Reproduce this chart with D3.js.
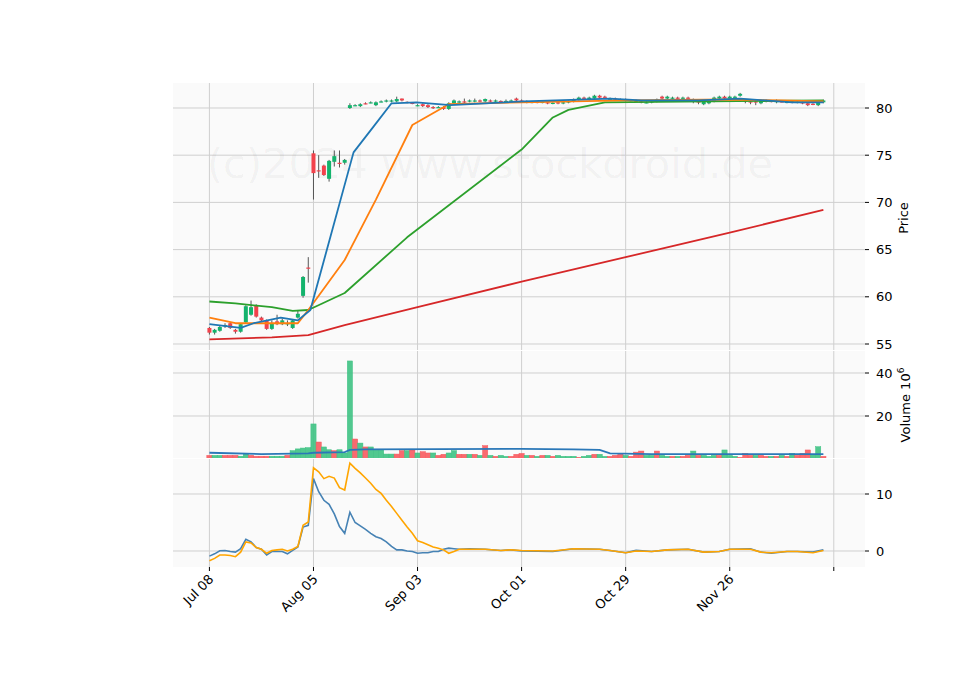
<!DOCTYPE html>
<html><head><meta charset="utf-8">
<script src="https://cdn.jsdelivr.net/npm/d3@7/dist/d3.min.js"></script>
<style>body{margin:0;background:#fff}text{font-family:"DejaVu Sans",sans-serif}</style>
</head><body><svg id="c" width="960" height="690"></svg>
<script>
const tickIdx=[0,20,40,60,80,100,120];
const tickLabels=["Jul 08","Aug 05","Sep 03","Oct 01","Oct 29","Nov 26",""];
const opens=[56.7,56.2,56.4,56.9,57.2,56.5,56.3,57.3,58.1,59.1,57.8,57.5,56.6,57.4,57.1,57.2,56.7,57.8,60.1,63.1,75.2,73.4,73.9,72.5,74.3,74.2,74.2,80.0,80.3,80.2,80.5,80.55,80.3,80.65,80.7,80.7,80.7,81.0,80.65,80.55,80.3,80.4,80.3,80.1,80.1,80.1,79.9,80.5,80.6,80.7,80.7,80.7,80.8,80.7,80.8,80.7,80.75,80.7,80.7,81.0,80.8,80.7,80.6,80.65,80.6,80.6,80.5,80.6,80.5,80.6,80.7,80.9,81.1,80.9,81.0,81.3,81.2,81.0,81.0,80.9,80.9,80.8,80.8,80.7,80.6,80.6,80.7,81.2,81.0,81.0,81.1,81.0,81.1,80.9,80.7,80.4,80.5,80.7,81.0,81.2,81.0,81.1,81.3,80.8,80.7,80.7,80.5,80.8,80.75,80.6,80.7,80.6,80.7,80.6,80.6,80.5,80.45,80.3,80.6];
const closes=[56.2,56.5,56.8,57.0,56.7,56.3,57.1,59.0,58.9,57.9,57.5,56.6,57.2,57.1,57.5,57.2,57.5,58.2,62.1,63.0,73.1,73.3,72.9,74.4,74.9,74.1,74.5,80.3,80.3,80.4,80.45,80.6,80.6,80.7,80.8,80.8,80.95,80.8,80.6,80.5,80.3,80.2,80.1,80.0,80.1,79.9,80.5,80.8,80.7,80.6,80.8,80.8,80.7,80.95,80.7,80.8,80.7,80.75,80.8,80.8,80.7,80.6,80.65,80.6,80.65,80.5,80.55,80.5,80.6,80.7,80.9,81.1,81.0,81.1,81.3,81.1,81.1,81.0,80.9,80.85,80.8,80.85,80.7,80.6,80.6,80.7,80.9,81.0,81.2,81.1,81.0,81.1,81.0,80.7,80.6,80.7,80.8,81.1,81.2,81.0,81.2,81.2,81.5,80.7,80.6,80.6,80.8,80.7,80.7,80.8,80.65,80.65,80.6,80.65,80.55,80.3,80.35,80.6,80.8];
const highs=[56.8,56.6,57.0,57.2,57.3,56.6,57.2,59.1,59.6,59.2,57.9,57.6,57.5,58.1,57.7,57.5,57.6,58.5,62.2,64.2,75.5,75.0,74.0,74.5,75.5,75.5,74.6,80.5,80.4,80.5,80.6,80.7,80.7,80.8,80.9,80.9,81.2,81.0,80.7,80.6,80.4,80.5,80.4,80.2,80.2,80.2,80.6,80.9,80.8,81.0,80.9,81.0,80.9,81.0,80.9,80.9,80.8,80.9,80.9,81.1,80.9,80.8,80.7,80.7,80.7,80.7,80.6,80.7,80.7,80.8,81.0,81.2,81.2,81.2,81.4,81.4,81.3,81.1,81.1,81.0,81.0,80.9,80.9,80.8,80.7,80.8,81.0,81.3,81.3,81.2,81.2,81.2,81.2,81.0,80.8,80.8,80.9,81.2,81.3,81.3,81.3,81.3,81.6,80.9,80.8,80.8,80.9,80.9,80.8,80.9,80.8,80.7,80.8,80.7,80.7,80.6,80.5,80.8,80.9];
const lows=[56.0,56.0,56.3,56.7,56.6,56.1,56.2,57.2,58.0,57.8,57.4,56.5,56.5,57.0,57.0,56.9,56.6,57.7,59.9,61.5,70.3,72.6,72.8,72.2,73.8,73.7,74.0,79.9,80.2,80.1,80.4,80.5,80.2,80.6,80.6,80.6,80.6,80.7,80.5,80.4,80.2,80.1,80.0,79.9,80.0,79.8,79.8,80.4,80.5,80.5,80.6,80.6,80.6,80.6,80.6,80.6,80.6,80.6,80.6,80.7,80.6,80.5,80.5,80.5,80.5,80.4,80.4,80.4,80.4,80.5,80.6,80.8,80.9,80.8,80.9,81.0,81.0,80.9,80.8,80.8,80.7,80.7,80.6,80.5,80.5,80.5,80.6,80.9,80.9,80.9,80.9,80.9,80.9,80.5,80.4,80.3,80.4,80.6,80.9,80.9,80.9,81.0,81.2,80.5,80.4,80.3,80.4,80.6,80.6,80.5,80.6,80.5,80.5,80.5,80.4,80.2,80.3,80.2,80.5];
const volumes=[1.7,1.7,1.7,1.7,1.7,1.7,1.3,2.3,1.7,1.3,1.3,1.3,1.3,1.3,1.3,1.7,3.9,4.7,5.1,5.3,16.3,7.9,5.6,4.3,3.9,4.3,2.8,45.6,9.3,7.4,5.6,5.6,4.3,4.3,2.3,2.3,2.3,3.9,3.9,4.2,2.8,3.4,2.8,2.8,1.7,2.2,2.8,3.9,2.2,2.2,2.2,2.2,1.7,6.2,1.7,1.25,1.7,1.25,1.25,2.2,2.6,1.7,1.7,1.25,1.7,1.7,1.25,1.7,1.25,1.25,1.25,0.8,1.25,1.7,2.2,2.2,1.25,1.25,1.7,2.2,1.7,1.25,3.2,3.7,1.7,1.7,3.7,1.7,1.25,1.25,1.25,1.25,1.7,3.7,1.7,1.7,1.25,1.7,1.7,4.2,1.7,1.25,0.8,2.6,1.7,1.7,1.7,1.25,1.25,1.25,1.7,1.25,2.6,1.7,2.6,4.2,2.2,5.7,1.25];
const volUp="rggrrrggrrrrgggrgggggrggrgggrgrgggggrrgrgrrgrrggrrgrgrgrggrr"+"rgrgrgrggggrggrggrrrgrrrggrggrgrrgrgggrgggrrrgrrgrgrgrrrgg";
const volMA=[[0,2.9],[10,2.3],[19,2.6],[20,2.9],[26,3.2],[27,4.2],[30,4.5],[60,4.7],[70,4.5],[75,4.2],[77,2.6],[85,2.3],[118,2.3]];
const maBlue=[[0,57.1],[6,56.7],[8.5,57.2],[13.7,57.8],[17,57.5],[19.4,58.6],[27.7,75.3],[31.5,78.0],[35,80.5],[39.8,80.6],[46.3,80.3],[60.4,80.7],[77,81.0],[83,80.8],[94,80.8],[102,81.0],[112,80.6],[118,80.6]];
const maOrange=[[0,57.8],[5,57.2],[12,57.2],[17,57.2],[19,58.6],[26,63.9],[32,70.3],[39,78.2],[46,80.4],[60,80.6],[80,80.8],[100,80.9],[110,80.8],[118,80.7]];
const maGreen=[[0,59.5],[5,59.3],[12,58.9],[16,58.5],[19,58.6],[26,60.4],[38,66.3],[60,75.6],[66,79.0],[69,79.8],[76,80.6],[118,80.8]];
const maRed=[[0,55.5],[12,55.7],[19,55.95],[26,57.0],[40,58.9],[60,61.6],[80,64.2],[100,66.8],[118,69.2]];
const macd=[[0,-0.9],[1,-0.5],[2,0.05],[3,0.1],[4,-0.1],[5,-0.2],[6,0.4],[7,2.05],[8,1.6],[9,0.6],[10,0.3],[11,-0.7],[12,-0.1],[13,-0.1],[14,-0.1],[15,-0.5],[16,0.1],[17,0.7],[18,4.2],[19,4.5],[20,12.7],[21,10.4],[22,8.9],[23,8.2],[24,6.5],[25,4.3],[26,3.1],[27,6.8],[28,5.0],[29,4.4],[30,3.8],[31,3.1],[32,2.5],[33,2.2],[34,1.6],[35,0.8],[36,0.2],[37,0.2],[38,0.0],[39,-0.1],[40,-0.4],[41,-0.3],[42,-0.3],[43,-0.1],[44,-0.1],[45,0.3],[46,0.5],[47,0.4],[48,0.3],[50,0.4],[53,0.3],[56,0.1],[58,0.2],[60,0.0],[66,-0.1],[70,0.4],[75,0.3],[77,0.1],[80,-0.3],[82,0.1],[85,-0.1],[88,0.2],[92,0.3],[95,-0.2],[98,-0.1],[100,0.3],[104,0.4],[106,-0.2],[108,-0.4],[111,-0.1],[113,-0.1],[116,-0.2],[118,0.2]];
const signal=[[0,-1.7],[1,-1.3],[2,-0.7],[3,-0.7],[4,-0.8],[5,-1.0],[6,-0.2],[7,1.6],[8,1.4],[9,0.6],[10,0.3],[11,-0.4],[12,0.1],[13,0.2],[14,0.3],[15,0.0],[16,0.3],[17,0.8],[18,4.5],[19,5.1],[20,14.6],[21,13.9],[22,12.7],[23,13.1],[24,12.8],[25,11.1],[26,10.7],[27,15.4],[28,14.5],[29,13.7],[30,12.8],[31,11.9],[32,10.8],[33,10.1],[34,8.9],[35,7.8],[36,6.6],[37,5.4],[38,4.2],[39,3.1],[40,1.8],[41,1.5],[42,1.1],[43,0.7],[44,0.5],[45,0.2],[46,-0.4],[47,-0.1],[48,0.3],[50,0.3],[53,0.3],[56,0.1],[58,0.2],[60,0.1],[66,0.0],[70,0.4],[75,0.3],[77,0.1],[80,-0.3],[82,0.0],[85,-0.1],[88,0.2],[92,0.3],[95,-0.2],[98,-0.1],[100,0.3],[104,0.3],[106,-0.2],[108,-0.3],[111,-0.1],[113,-0.1],[116,-0.3],[118,0.1]];
const priceTicks=[55,60,65,70,75,80], volTicks=[20,40], macdTicks=[0,10];

const svg=d3.select("#c");
const L=173,R=865;
const x=d3.scaleLinear().domain([-7,126]).range([L,R]);
const panels=[{t:83,b:350},{t:351,b:458},{t:459,b:567}];
const yP=d3.scaleLinear().domain([55,80]).range([344,108]);
const yV=d3.scaleLinear().domain([0,20]).range([459,416]);
const yM=d3.scaleLinear().domain([0,10]).range([551,494]);
const clip=(id,p)=>svg.append("clipPath").attr("id",id).append("rect").attr("x",L).attr("y",p.t).attr("width",R-L).attr("height",p.b-p.t);
panels.forEach((p,i)=>{svg.append("rect").attr("x",L).attr("y",p.t).attr("width",R-L).attr("height",p.b-p.t).attr("fill","#fafafa");clip("cp"+i,p);});
const grid=svg.append("g").attr("stroke","#cfcfcf").attr("stroke-width",1);
panels.forEach(p=>tickIdx.forEach(t=>grid.append("line").attr("x1",x(t)).attr("x2",x(t)).attr("y1",p.t).attr("y2",p.b)));
function yaxis(scale,ticks){
  const g=svg.append("g");
  ticks.forEach(t=>{const y=scale(t);
    g.append("line").attr("x1",L).attr("x2",R).attr("y1",y).attr("y2",y).attr("stroke","#cfcfcf");
    g.append("line").attr("x1",R).attr("x2",R+4).attr("y1",y).attr("y2",y).attr("stroke","#000");
    g.append("text").attr("x",R+11).attr("y",y+4.5).attr("font-size",13).text(t);});
}
yaxis(yP,priceTicks);yaxis(yV,volTicks);yaxis(yM,macdTicks);
svg.append("text").attr("x",490).attr("y",178).attr("text-anchor","middle").attr("font-size",41.5).attr("fill","#000").attr("fill-opacity",0.045).text("(c)2024 www.stockdroid.de");
const gp=svg.append("g").attr("clip-path","url(#cp0)");
const up="#13b36c",dn="#f2424c";
closes.forEach((c,i)=>{const o=opens[i],col=c>=o?up:dn,cx=x(i);
  gp.append("line").attr("x1",cx).attr("x2",cx).attr("y1",yP(highs[i])).attr("y2",yP(lows[i])).attr("stroke","#555").attr("stroke-width",1);
  const y1=yP(Math.max(o,c)),y2=yP(Math.min(o,c));
  gp.append("rect").attr("x",cx-2).attr("width",4).attr("y",y1).attr("height",Math.max(1.2,y2-y1)).attr("fill",col);});
const line=(sy)=>d3.line().x(d=>x(d[0])).y(d=>sy(d[1]));
[[maRed,"#d62728"],[maGreen,"#2ca02c"],[maOrange,"#ff7f0e"],[maBlue,"#1f77b4"]].forEach(([d,c])=>gp.append("path").attr("d",line(yP)(d)).attr("fill","none").attr("stroke",c).attr("stroke-width",1.8).attr("stroke-linejoin","round"));
const gv=svg.append("g").attr("clip-path","url(#cp1)");
volumes.forEach((v,i)=>{const upb=volUp[i]==="g",col=upb?"#3ec283":"#f85a5f";
  gv.append("rect").attr("x",x(i-0.5)).attr("width",x(1)-x(0)).attr("y",yV(v)).attr("height",yV(0)-yV(v)).attr("fill",col).attr("fill-opacity",0.9).attr("stroke",col).attr("stroke-width",0.5);});
gv.append("path").attr("d",line(yV)(volMA)).attr("fill","none").attr("stroke","#2b78b8").attr("stroke-width",1.8);
const gm=svg.append("g").attr("clip-path","url(#cp2)");
gm.append("path").attr("d",line(yM)(macd)).attr("fill","none").attr("stroke","#4682b4").attr("stroke-width",1.6);
gm.append("path").attr("d",line(yM)(signal)).attr("fill","none").attr("stroke","#ffa500").attr("stroke-width",1.6);
tickIdx.forEach((t,k)=>{const xx=x(t);
  svg.append("line").attr("x1",xx).attr("x2",xx).attr("y1",567).attr("y2",571).attr("stroke","#000");
  svg.append("text").attr("transform",`translate(${xx+5},${580}) rotate(-45)`).attr("text-anchor","end").attr("font-size",13).text(tickLabels[k]);});
svg.append("text").attr("transform","translate(908,218) rotate(-90)").attr("text-anchor","middle").attr("font-size",13).text("Price");
const vt=svg.append("text").attr("transform","translate(910,405) rotate(-90)").attr("text-anchor","middle").attr("font-size",13);
vt.append("tspan").text("Volume  10");vt.append("tspan").attr("dy",-6).attr("font-size",9).text("6");
</script></body></html>
